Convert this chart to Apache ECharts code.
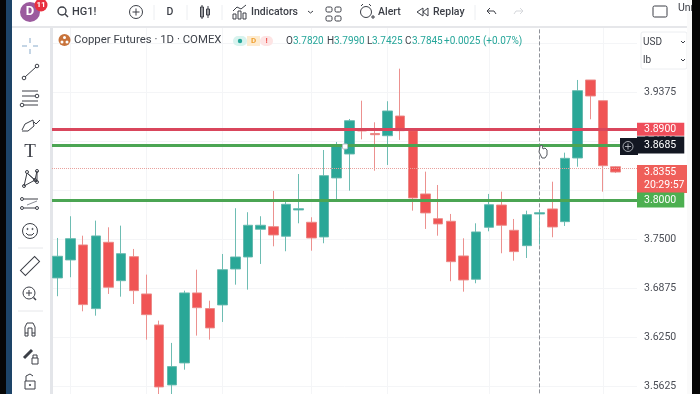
<!DOCTYPE html>
<html>
<head>
<meta charset="utf-8">
<style>html,body{margin:0;padding:0;background:#fff}#c{width:700px;height:394px}</style>
<script src="https://cdn.jsdelivr.net/npm/echarts@6/dist/echarts.min.js"></script>
</head>
<body>
<div id="c"></div>
<script>
// Data: [open, close, low, high]
const opens  = [3.7006,3.7235,3.7426,3.6615,3.7460,3.6971,3.7277,3.6802,3.6407,3.5643,3.5923,3.6815,3.6615,3.6662,3.7120,3.7273,3.7626,3.7659,3.7537,3.7872,3.7715,3.7528,3.8280,3.8585,3.8904,3.8846,3.8818,3.9069,3.8882,3.8076,3.7761,3.7728,3.7286,3.6989,3.7651,3.7935,3.7613,3.7417,3.7821,3.7885,3.7723,3.8534,3.9528,3.9264,3.8423];
const closes = [3.7282,3.7506,3.6666,3.7541,3.6887,3.7315,3.6844,3.6538,3.5617,3.5876,3.6815,3.6627,3.6369,3.7111,3.7273,3.7677,3.7677,3.7553,3.7944,3.7888,3.7515,3.8309,3.8700,3.9009,3.8878,3.8831,3.9133,3.8882,3.8025,3.7834,3.7694,3.7213,3.6980,3.7592,3.7939,3.7677,3.7341,3.7812,3.7837,3.7655,3.8530,3.9392,3.9324,3.8436,3.8355];
const lows   = [3.6773,3.7015,3.6581,3.6525,3.6802,3.6767,3.6674,3.6220,3.5451,3.5451,3.5837,3.6271,3.6220,3.6445,3.6920,3.6857,3.7184,3.7409,3.7346,3.7702,3.7353,3.7448,3.7999,3.8118,3.8772,3.8372,3.8445,3.8764,3.7863,3.7630,3.7544,3.6964,3.6831,3.6938,3.7600,3.7320,3.7226,3.7260,3.7430,3.7524,3.7668,3.8423,3.9027,3.8105,3.8343];
const highs  = [3.7515,3.7792,3.7544,3.7736,3.7651,3.7672,3.7375,3.7048,3.6462,3.6178,3.6844,3.7111,3.6716,3.7311,3.7894,3.7843,3.7792,3.8114,3.7999,3.8330,3.7779,3.8636,3.8738,3.9031,3.9264,3.8989,3.9257,3.9672,3.8882,3.8360,3.8190,3.7821,3.7511,3.7702,3.8076,3.8105,3.7757,3.7863,3.7872,3.8232,3.8602,3.9528,3.9528,3.9264,3.8432];
const categories = Array.from({length: 46}, (_, i) => String(i + 1));
const resistance = 3.8900;
const pivot = 3.8685;
const support = 3.8000;
const lastPrice = 3.8355;
const countdown = '20:29:57';
const axisMin = 3.5, axisMax = 4.0625, axisStep = 0.0625;
const gridCategories = ['2','8','14','21','27','35','44'];
const crosshairCategory = '39';

const candleData = opens.map((o, i) => [o, closes[i], lows[i], highs[i]]);

// Chrome helpers
const Z = 100;
const INK = '#3c3f47';
const g = [];
const L = (x1,y1,x2,y2,c=INK,w=1,z=Z+1) => g.push({type:'line',z,shape:{x1,y1,x2,y2},style:{stroke:c,lineWidth:w}});
const C = (cx,cy,r,c=INK,w=1,fill='transparent',z=Z+1) => g.push({type:'circle',z,shape:{cx,cy,r},style:{stroke:c,lineWidth:w,fill}});
const R = (x,y,w,h,fill,stroke,r=0,z=Z) => g.push({type:'rect',z,shape:{x,y,width:w,height:h,r},style:{fill,stroke:stroke||'transparent',lineWidth:1}});
const P = (pts,c=INK,w=1,z=Z+1) => g.push({type:'polyline',z,shape:{points:pts},style:{stroke:c,lineWidth:w,fill:'transparent'}});
const T = (x,y,text,size=10,fill=INK,weight='normal',font='Roboto',align='left') => g.push({type:'text',z:Z+2,x,y,style:{text,fill,fontSize:size,fontWeight:weight,fontFamily:font,textAlign:align,textVerticalAlign:'middle'}});

// panels
R(0,0,700,26,'#ffffff');
R(0,26,700,2,'#e6e7ea');
R(12,28,38,366,'#ffffff');
R(50,28,2,366,'#e3e5e9');
R(0,0,6,394,'#060606',null,0,Z+3);
R(6,0,6,394,'#1d4468',null,0,Z+3);
R(692,0,8,394,'#060606',null,0,Z+3);
R(687,0,5,394,'#fafafa',null,0,Z+2);

// header
C(30,12,10,'#9b5a9e',0,'#9b5a9e');
T(30,12,'D',13,'#fff','bold','Roboto','center');
C(41,5,6.5,'#e8303f',0,'#e8303f');
T(41,5,'11',8,'#fff','bold','Roboto','center');
C(62,11,4,INK,1.4); L(65,14,68,17,INK,1.4);
T(72,12,'HG1!',11,INK,'500');
[154,187,222,475].forEach(x=>L(x,5,x,20,'#eceef1',1));
C(136,12,6.5,INK,1); L(132.5,12,139.5,12); L(136,8.5,136,15.5);
T(170,12,'D',10.5,INK,'500','Roboto','center');
R(200.5,7,3,10,'transparent',INK,0,Z+1); R(206.5,9,3,6,'transparent',INK,0,Z+1);
L(202,5,202,19); L(208,6,208,18);
R(233,14,3,5,'transparent',INK,0,Z+1);R(238,11,3,8,'transparent',INK,0,Z+1);R(243,13,3,6,'transparent',INK,0,Z+1);
P([[233,11],[237,7],[241,9],[246,5]]);
T(251,12,'Indicators',10.5,INK,'500');
P([[308,11],[310.5,13],[313,11]]);
[[326,7],[335,7],[326,16],[335,16]].forEach(p=>R(p[0],p[1],6,5,'transparent',INK,1.5,Z+1));
C(366,12,5.5); L(361,6,363,4); L(371,6,369,4); L(371,17,375,17); L(373,15,373,19);
T(378,12,'Alert',10.5,INK,'500');
P([[423,8],[417,12],[423,16],[423,8]]); P([[428,8],[423,12],[428,16],[428,8]]);
T(433,12,'Replay',10.5,INK,'500');
P([[490,8],[487,11],[490,14]]); P([[487,11],[494,11],[496,14]]);
P([[520,8],[523,11],[520,14]],'#d5d7db'); P([[523,11],[516,11],[514,14]],'#d5d7db');
R(653,6,14,11,'transparent',INK,1.5,Z+1);
T(678,8,'Unn',10.5,INK);

// left toolbar
const B = '#9db9d4';
L(22,46,27,46,B,1.2);L(33,46,38,46,B,1.2);L(30,38,30,43,B,1.2);L(30,49,30,54,B,1.2);
L(25,77,36,67); C(24,78,1.8); C(37,66,1.8);
L(22,91,38,91); L(22,96,35,96); C(37,96,1.8); L(22,101,38,101); L(24,105,38,105); C(22,105,1.8);
P([[22,130],[25,124],[33,120],[34,126],[28,131],[22,131]]); P([[34,122],[36,124],[40,120]]);
T(30,152,'T',19,INK,'normal','Liberation Serif','center');
P([[24,186],[27,173],[35,180],[37,171],[37,182],[27,173]]); P([[24,186],[35,180]]);
[[24,186],[27,172],[35,180],[37,182],[37,171]].forEach(p=>C(p[0],p[1],1.5));
L(24,199,38,199); C(22,199,1.5); L(24,208,36,208); C(22,208,1.5); C(37,208,1.5); L(27,205,37,201,'#8b8e96',1);
C(30,231,7.5,INK,1); C(27.5,229,0.6); C(32.5,229,0.6); P([[26,233],[28,235],[32,235],[34,233]]);
L(18,248,43,248,'#e6e7ea',1);
g.push({type:'rect',z:Z+1,x:30,y:266,rotation:Math.PI/4,shape:{x:-10,y:-3.5,width:20,height:7},style:{fill:'transparent',stroke:INK,lineWidth:1}});
C(29,293,6,INK,1); L(26,293,32,293); L(29,290,29,296); L(33.5,297.5,36,300,INK,1.5);
L(18,311,43,311,'#e6e7ea',1);
P([[25,336],[25,327],[27,323],[33,323],[35,327],[35,336],[32,336],[32,328],[28,328],[28,336],[25,336]]);
L(25,333,28,333);L(32,333,35,333);
L(24,358,32,350,INK,3); R(32,358,6,6,'transparent',INK,0,Z+1); P([[33,358],[33,355],[37,355],[37,358]]);
R(25,381,10,8,'transparent',INK,0,Z+1); P([[26,381],[26,376],[30,374],[33,376]]); C(30,385,0.7);

// legend over the plot
C(64.5,40,6,'#c8733b',0,'#c8733b');
[[64.5,37.5],[62,42],[67,42]].forEach(p=>C(p[0],p[1],1.5,'#fff',0,'#fff'));
T(74,40,'Copper Futures · 1D · COMEX',11.4,'#3f434b');
R(233,36,14,10,'#d8f3ee',null,5,Z+1); C(240,41,2.2,'#26a69a',0,'#26a69a');
R(247,36,13,10,'#fdebd0',null,0,Z+1); T(253.5,41,'D',8,'#f0a030','bold','Roboto','center');
R(260,36,13,10,'#fde4e4',null,5,Z+1); T(266.5,41,'!',8,'#ef5350','bold','Roboto','center');
const TEAL='#26a69a';
[[286,'O',INK],[293,'3.7820',TEAL],[327,'H',INK],[334,'3.7990',TEAL],[367,'L',INK],[372,'3.7425',TEAL],[405,'C',INK],[412,'3.7845',TEAL],[444,'+0.0025 (+0.07%)',TEAL]]
  .forEach(t=>T(t[0],41,t[1],10,t[2]));

// right scale box
R(641,32,46,37,'#ffffff','#eceef1',2,Z+1);
T(643,42,'USD',10,INK); T(643,60,'lb',10,INK);
P([[681,41],[683,43],[685,41]]); P([[681,59],[683,61],[685,59]]);

// drawing handle, pivot tag head, cursor
R(342.5,144,5,5,'#fff','#b9bcc4',1,Z-60);
R(620,138,18,17,'#131722',null,0,Z-50);
C(628,146.5,5,'#c8cad0',0.8,'transparent',Z-49); L(625,146.5,631,146.5,'#c8cad0',0.8,Z-49); L(628,143.5,628,149.5,'#c8cad0',0.8,Z-49);
g.push({type:'polygon',z:Z-50,shape:{points:[[540,146],[542,145],[543,149],[545,148],[547,150],[547,155],[545,158],[542,158],[539,152]]},style:{fill:'#fff',stroke:'#55585f',lineWidth:1}});

const level = (value,color,tagColor,width,pad) => ({
  yAxis:value,
  lineStyle:{color,width,type:'solid',opacity:1},
  label:{show:true,position:'end',distance:0,formatter:value.toFixed(4),backgroundColor:tagColor,color:'#fff',fontFamily:'Roboto',fontSize:10.5,padding:pad}
});

const option = {
  animation:false,
  backgroundColor:'#fff',
  graphic:{elements:g},
  grid:[
    {left:52,width:585,top:-6.125,height:441.5,show:false,outerBoundsMode:'none'},
    {left:51.4,width:583.3,top:-6.125,height:441.5,show:false,outerBoundsMode:'none'}
  ],
  xAxis:[
    {gridIndex:0,type:'value',min:0,max:1,show:false},
    {gridIndex:1,type:'category',data:categories,show:false}
  ],
  yAxis:[
    {gridIndex:0,type:'value',position:'right',min:axisMin,max:axisMax,interval:axisStep,
     axisLine:{show:true,lineStyle:{color:'#e3e5e9'}},axisTick:{show:false},
     splitLine:{show:true,lineStyle:{color:'#f4f5f7'}},
     axisLabel:{margin:7,color:'#4a4d55',fontFamily:'Roboto',fontSize:10.5,formatter:v=>v.toFixed(4)}},
    {gridIndex:1,type:'value',min:axisMin,max:axisMax,interval:axisStep,show:false}
  ],
  series:[
    {type:'line',xAxisIndex:0,yAxisIndex:0,data:[],z:3,silent:true,
     markLine:{silent:true,symbol:'none',animation:false,data:[
       {yAxis:lastPrice,lineStyle:{color:'#e9a19d',width:1,type:'dotted'},
        label:{show:true,position:'end',distance:0,offset:[0,10.5],formatter:lastPrice.toFixed(4)+'\n'+countdown,backgroundColor:'#ef5f5a',color:'#fff',fontFamily:'Roboto',fontSize:10.5,lineHeight:13,padding:[1,6,1,7]}},
       level(pivot,'#4ba553','#131722',3,[3,8,3,7]),
       level(resistance,'#d9465c','#ef4d5a',3,[1,8,1,7]),
       level(support,'#4ba553','#4caf50',3,[2,8,2,7])
     ]}},
    {type:'candlestick',xAxisIndex:1,yAxisIndex:1,data:candleData,barWidth:10,z:4,clip:true,silent:true,
     itemStyle:{color:'#18a08e',color0:'#ef4545',borderColor:'#62b7ac',borderColor0:'#ea8886',borderColorDoji:'#62b7ac',borderWidth:1,opacity:0.92},
     markLine:{silent:true,symbol:'none',animation:false,z:1,label:{show:false},data:[
       ...gridCategories.map(c=>({xAxis:c,lineStyle:{color:'#f4f5f7',width:1,type:'solid'}})),
       {xAxis:crosshairCategory,lineStyle:{color:'#8f9299',width:1,type:'dashed'}}
     ]}}
  ]
};
const chart = echarts.init(document.getElementById('c'),null,{renderer:'canvas'});
chart.setOption(option);
</script>
</body>
</html>
